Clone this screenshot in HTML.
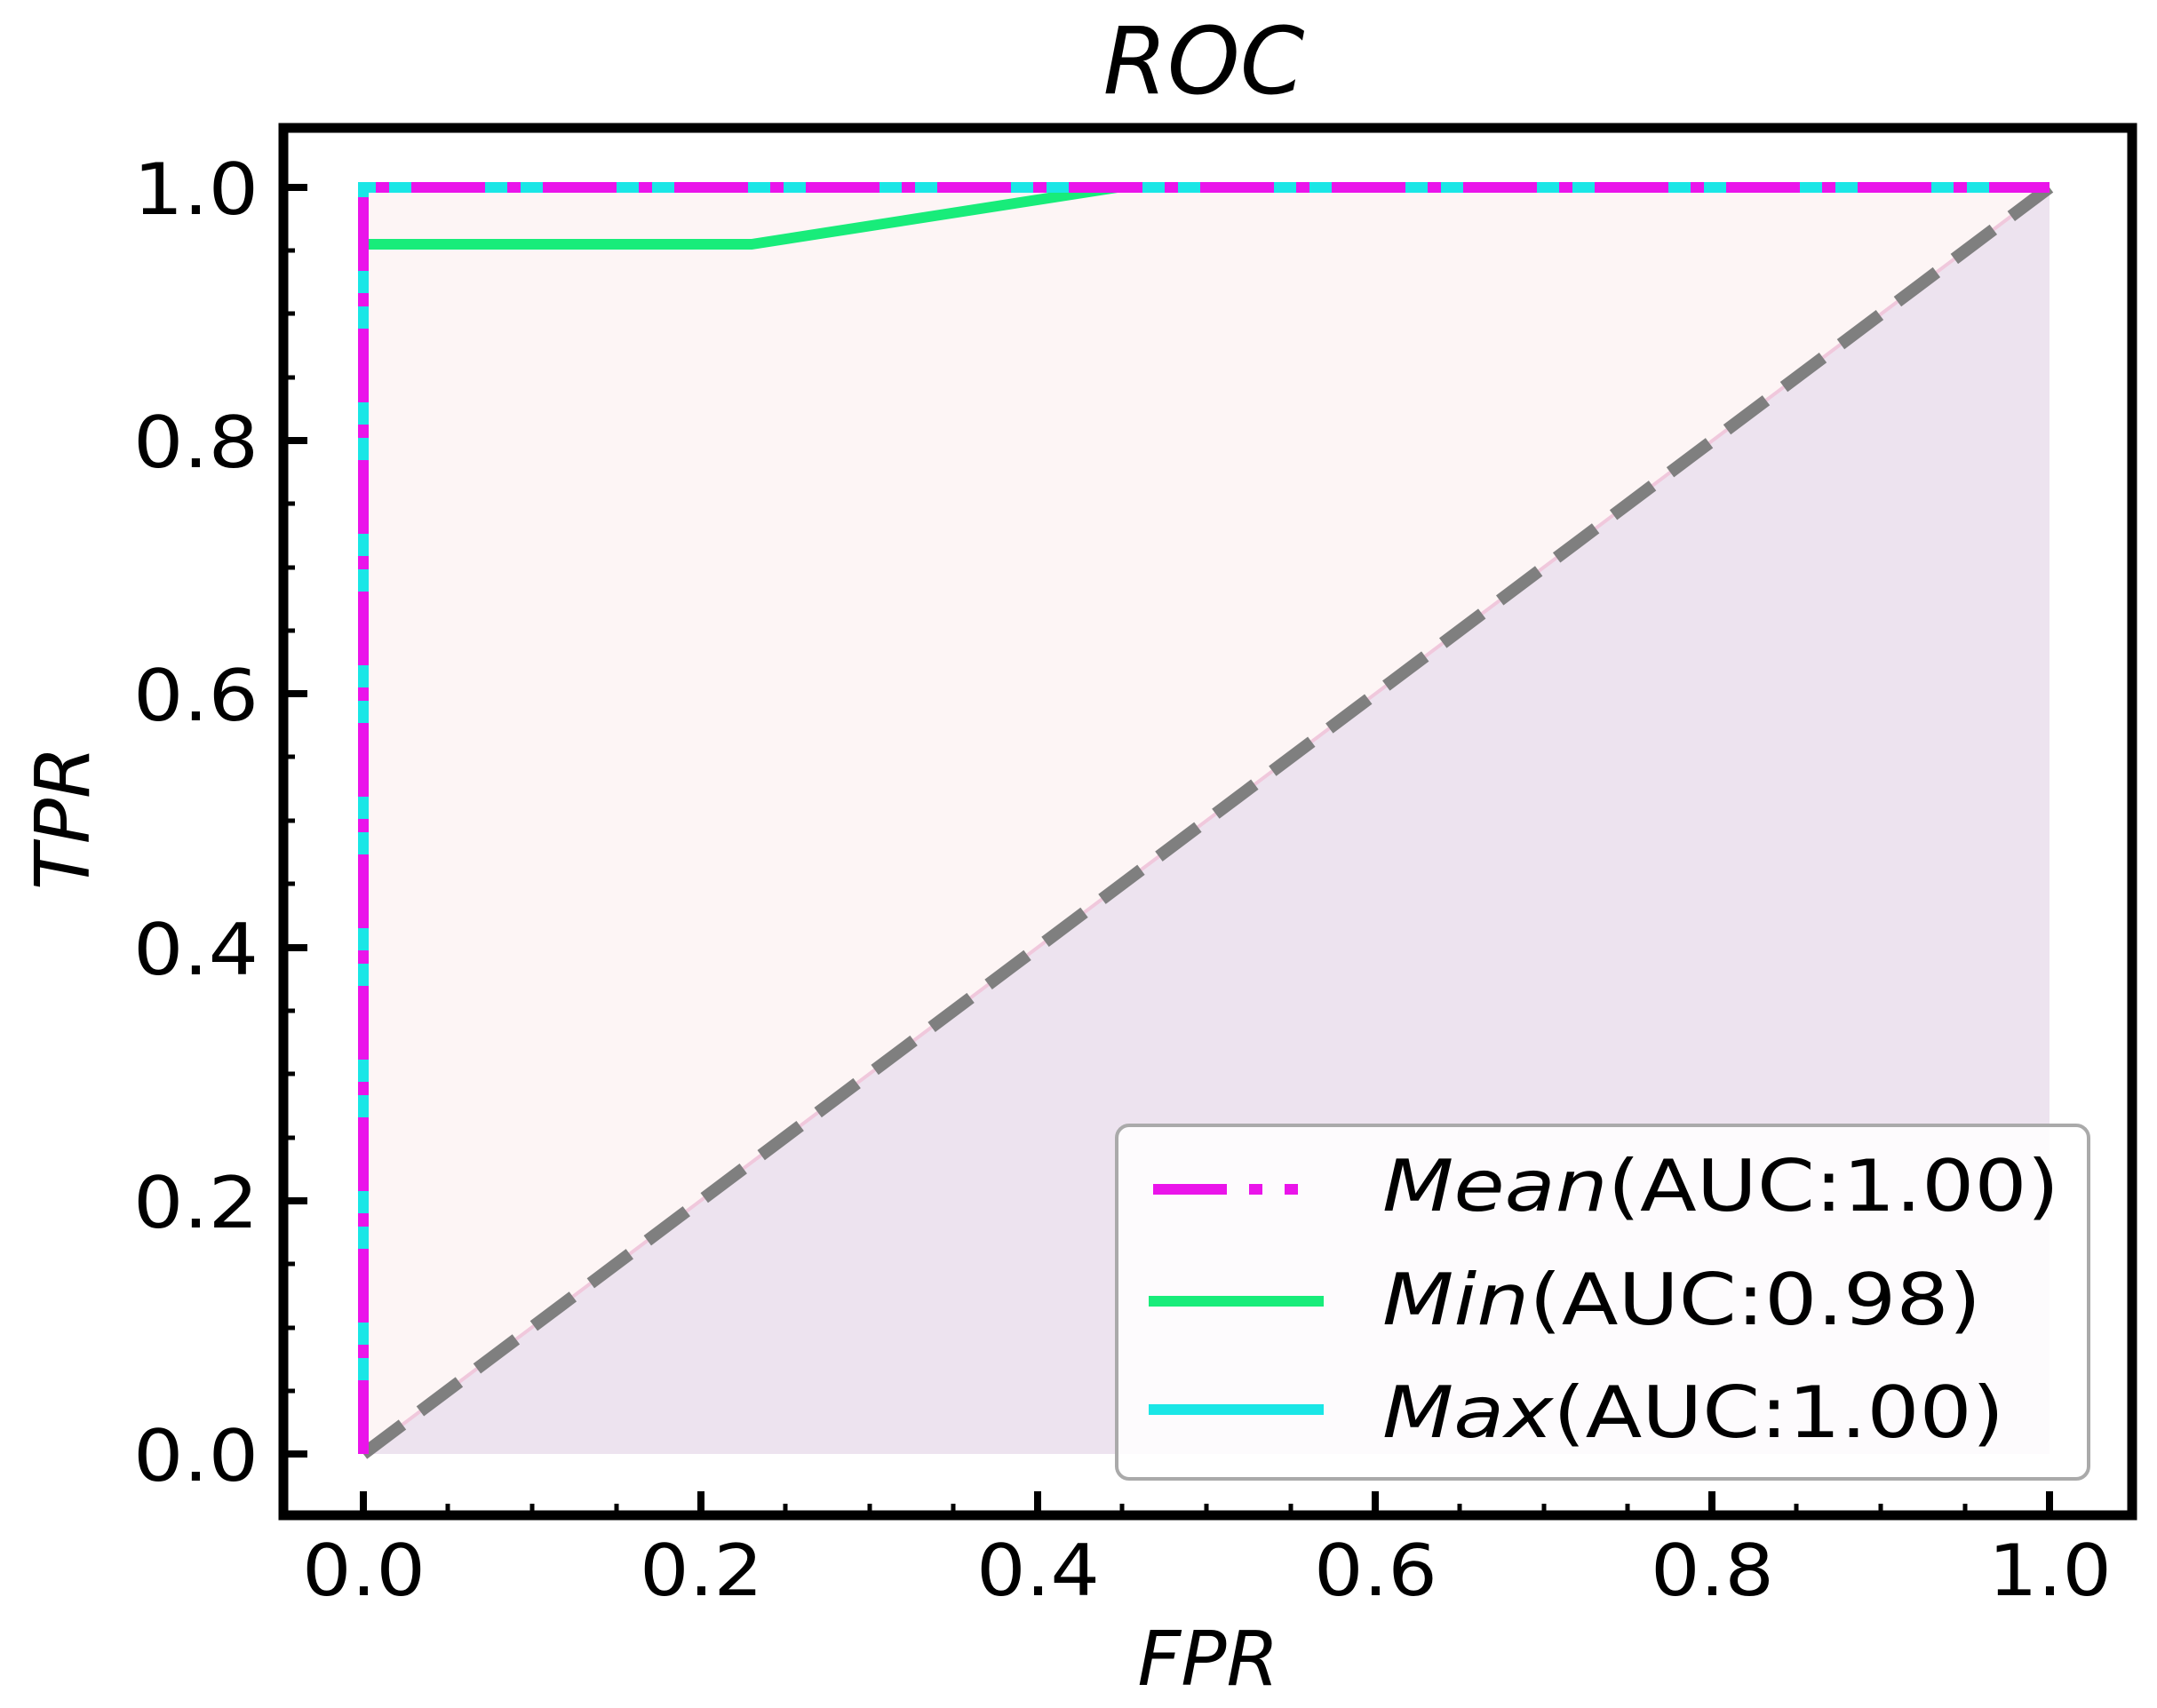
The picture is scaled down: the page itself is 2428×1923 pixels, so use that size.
<!DOCTYPE html>
<html><head><meta charset="utf-8"><style>html,body{margin:0;padding:0;background:#fff}svg{display:block}</style></head>
<body>
<svg width="2428" height="1923" viewBox="0 0 2428 1923" xmlns="http://www.w3.org/2000/svg" font-family="DejaVu Sans, Liberation Sans, sans-serif">
<rect width="2428" height="1923" fill="#fff"/>
<polygon points="409,1637 409,211 2307,211 2307,211" fill="#fdf5f5"/>
<polygon points="409,1637 2307,211 2307,1637" fill="#ede3ef"/>
<line x1="409" y1="1637" x2="2307" y2="211" stroke="#f0c8dc" stroke-width="4"/>
<line x1="409" y1="1637" x2="2307" y2="211" stroke="#7f7f7f" stroke-width="14" stroke-dasharray="55,25"/>
<polyline points="409,1637 409,275 846,275 1258,211 2307,211" fill="none" stroke="#18ec7a" stroke-width="12"/>
<polyline points="409,1637 409,211 2307,211" fill="none" stroke="#1ae6e6" stroke-width="12"/>
<polyline points="409,1637 409,211 2307,211" fill="none" stroke="#ea14ea" stroke-width="12" stroke-dasharray="83,25,15,25"/>
<rect x="319" y="144" width="2081" height="1562" fill="none" stroke="#000" stroke-width="11"/>
<g stroke="#000" stroke-width="5">
<path d="M409 1707v-28M789 1707v-28M1168 1707v-28M1548 1707v-28M1927 1707v-28M2307 1707v-28" stroke-width="8"/>
<path d="M504 1707v-14M599 1707v-14M694 1707v-14M884 1707v-14M979 1707v-14M1073 1707v-14M1263 1707v-14M1358 1707v-14M1453 1707v-14M1643 1707v-14M1738 1707v-14M1832 1707v-14M2022 1707v-14M2117 1707v-14M2212 1707v-14"/>
<path d="M318 1637h28M318 1352h28M318 1067h28M318 781h28M318 496h28M318 211h28" stroke-width="8"/>
<path d="M318 1566h14M318 1495h14M318 1423h14M318 1281h14M318 1209h14M318 1138h14M318 995h14M318 924h14M318 852h14M318 710h14M318 639h14M318 567h14M318 425h14M318 353h14M318 282h14"/>
</g>
<g font-size="80" fill="#000">
<text x="150" y="241" textLength="141" lengthAdjust="spacingAndGlyphs">1.0</text>
<text x="150" y="526" textLength="141" lengthAdjust="spacingAndGlyphs">0.8</text>
<text x="150" y="811" textLength="141" lengthAdjust="spacingAndGlyphs">0.6</text>
<text x="150" y="1097" textLength="141" lengthAdjust="spacingAndGlyphs">0.4</text>
<text x="150" y="1382" textLength="141" lengthAdjust="spacingAndGlyphs">0.2</text>
<text x="150" y="1667" textLength="141" lengthAdjust="spacingAndGlyphs">0.0</text>
<text x="340" y="1796" textLength="139" lengthAdjust="spacingAndGlyphs">0.0</text>
<text x="720" y="1796" textLength="139" lengthAdjust="spacingAndGlyphs">0.2</text>
<text x="1099" y="1796" textLength="139" lengthAdjust="spacingAndGlyphs">0.4</text>
<text x="1479" y="1796" textLength="139" lengthAdjust="spacingAndGlyphs">0.6</text>
<text x="1858" y="1796" textLength="139" lengthAdjust="spacingAndGlyphs">0.8</text>
<text x="2238" y="1796" textLength="139" lengthAdjust="spacingAndGlyphs">1.0</text>
</g>
<text x="1355" y="105" font-size="104" font-style="italic" text-anchor="middle">ROC</text>
<text x="1360" y="1897" font-size="85" font-style="italic" text-anchor="middle">FPR</text>
<text transform="translate(100,921) rotate(-90)" font-size="85" font-style="italic" text-anchor="middle">TPR</text>
<rect x="1257" y="1267" width="1094" height="398" rx="14" fill="#ffffff" fill-opacity="0.85" stroke="#aaa" stroke-width="4"/>
<line x1="1298" y1="1339" x2="1487" y2="1339" stroke="#ea14ea" stroke-width="12" stroke-dasharray="83,25,15,25,15,100"/>
<line x1="1293" y1="1465" x2="1490" y2="1465" stroke="#18ec7a" stroke-width="12"/>
<line x1="1293" y1="1587" x2="1490" y2="1587" stroke="#1ae6e6" stroke-width="12"/>
<g font-size="80" fill="#000">
<text x="1556" y="1363" textLength="762" lengthAdjust="spacingAndGlyphs"><tspan font-style="italic">Mean</tspan>(AUC:1.00)</text>
<text x="1556" y="1491" textLength="674" lengthAdjust="spacingAndGlyphs"><tspan font-style="italic">Min</tspan>(AUC:0.98)</text>
<text x="1556" y="1618" textLength="700" lengthAdjust="spacingAndGlyphs"><tspan font-style="italic">Max</tspan>(AUC:1.00)</text>
</g>
</svg>
</body></html>
